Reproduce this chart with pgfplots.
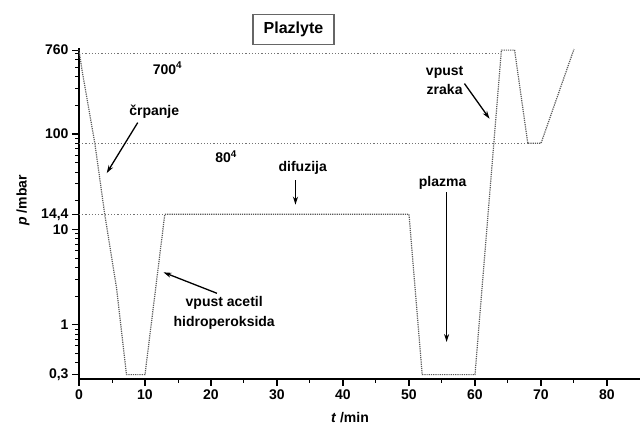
\documentclass[border=0pt]{standalone}
\usepackage{fontspec}
\setmainfont{Liberation Sans}
\usepackage{pgfplots}
\pgfplotsset{compat=1.18}
\usetikzlibrary{arrows.meta}

\begin{document}
\begin{tikzpicture}[font=\fontsize{14}{17}\selectfont\bfseries]
\path (0,0) rectangle (642pt,428pt);
\begin{axis}[
  at={(79pt,49pt)}, anchor=south west,
  scale only axis, width=561pt, height=331pt,
  xmin=0, xmax=85, ymode=log, ymin=0.27, ymax=800,
  axis x line=bottom, axis y line=left,
  axis line style={-, line width=1.4pt},
  xtick align=outside, ytick align=outside,
  major tick length=7pt, minor tick length=4pt,
  every major tick/.append style={black, line width=1.2pt},
  every minor tick/.append style={black, line width=1pt},
  xtick={0,10,...,80},
  minor xtick={5,15,25,35,45,55,65,75},
  ytick={0.3,1,10,14.4,100,760},
  yticklabels={{0,3},1,10,{14,4},100,760},
  minor ytick={0.4,0.5,0.6,0.7,0.8,0.9,2,3,4,5,6,7,8,9,20,30,40,50,60,70,80,90,200,300,400,500,600,700},
  /pgf/number format/assume math mode=true,
  clip=false,
  xlabel={\textit{t} /min}, ylabel={\textit{p} /mbar},
  xlabel style={at={(axis description cs:0.483,-0.118)}, anchor=center},
  ylabel style={at={(axis description cs:-0.1,0.54)}, anchor=center},
]
% reference levels
\addplot[black!55, dotted, line width=1.2pt] coordinates {(0,700) (64,700)};
\addplot[black!55, dotted, line width=1.2pt] coordinates {(0,80) (68,80)};
\addplot[black!55, dotted, line width=1.2pt] coordinates {(0,14.4) (13,14.4)};
% pressure course
\addplot[black!65, densely dotted, line width=1.2pt] coordinates {
  (0,760) (0.5,450) (2.4,80) (3.9,14.4) (5.7,2.4) (7.2,0.3) (10,0.3)
  (13,14.4) (50,14.4) (52,0.3) (60,0.3) (64,760) (66,760)
  (68,80) (70,80) (75,780)
};

\node[draw=black!60, line width=1.2pt, minimum width=81pt, minimum height=30pt,
  font=\fontsize{16}{19}\selectfont\bfseries] at (axis cs:32.5,1259) {Plazlyte};

\node at (axis cs:13.4,490) {700\textsuperscript{4}};
\node at (axis cs:22.3,57.5) {80\textsuperscript{4}};

\node at (axis cs:11.4,170) {črpanje};
\draw[-{Stealth[length=8pt,width=5pt]}, line width=1.3pt] (axis cs:8.9,132) -- (axis cs:4.2,39);

\node at (axis cs:33.9,43.7) {difuzija};
\draw[-{Stealth[length=8pt,width=5pt]}, line width=1.3pt] (axis cs:32.8,33) -- (axis cs:32.8,18.2);

\node[align=center, font=\fontsize{14}{20}\selectfont\bfseries] at (axis cs:22,1.32) {vpust acetil\\hidroperoksida};
\draw[-{Stealth[length=8pt,width=5pt]}, line width=1.3pt] (axis cs:20.9,2.14) -- (axis cs:12.8,3.55);

\node at (axis cs:55.1,31) {plazma};
\draw[-{Stealth[length=8pt,width=5pt]}, line width=1.3pt] (axis cs:55.7,24.5) -- (axis cs:55.7,0.66);

\node[align=center, font=\fontsize{14}{19}\selectfont\bfseries] at (axis cs:55.4,363) {vpust\\zraka};
\draw[-{Stealth[length=8pt,width=5pt]}, line width=1.3pt] (axis cs:58.4,339) -- (axis cs:62.2,145);
\end{axis}
\end{tikzpicture}
\end{document}
